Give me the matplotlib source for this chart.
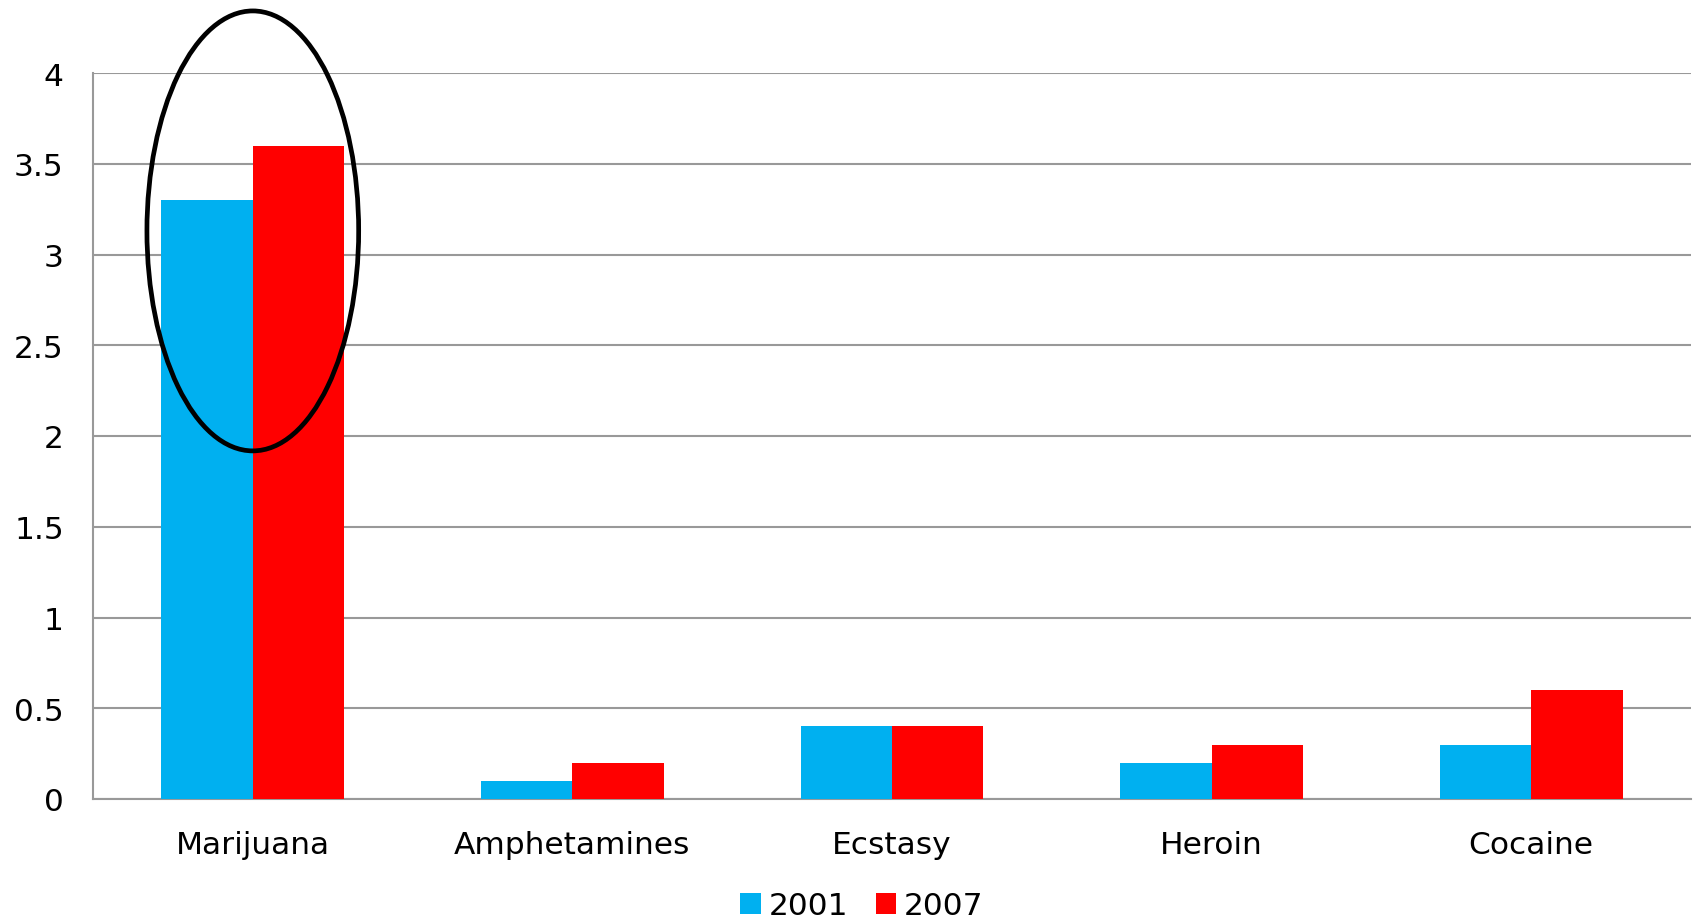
import matplotlib
matplotlib.use("Agg")
import matplotlib.pyplot as plt
from matplotlib.patches import Ellipse, Patch
import numpy as np

categories = ["Marijuana", "Amphetamines", "Ecstasy", "Heroin", "Cocaine"]
series_names = ["2001", "2007"]
values_2001 = [3.3, 0.1, 0.4, 0.2, 0.3]
values_2007 = [3.6, 0.2, 0.4, 0.3, 0.6]
y_ticks = [0, 0.5, 1, 1.5, 2, 2.5, 3, 3.5, 4]
y_tick_labels = ["0", "0.5", "1", "1.5", "2", "2.5", "3", "3.5", "4"]

blue = "#00B0F0"
red = "#FF0000"
grid_color = "#999999"

plt.rcParams["font.family"] = ["DejaVu Sans"]

fig = plt.figure(figsize=(16.96, 9.2), dpi=100)
ax = fig.add_axes([93 / 1696, 1 - 800 / 920, (1691 - 93) / 1696, (800 - 74) / 920])

x = np.arange(len(categories))
bw = 1 / 3.5
ax.bar(x - bw / 2, values_2001, width=bw, color=blue, zorder=3)
ax.bar(x + bw / 2, values_2007, width=bw, color=red, zorder=3)

ax.set_xlim(-0.5, len(categories) - 0.5)
ax.set_ylim(0, 4)
ax.set_yticks(y_ticks)
ax.set_yticklabels(y_tick_labels)
ax.set_xticks(x)
ax.set_xticklabels(categories)
ax.tick_params(axis="both", length=0, labelsize=22.5, colors="black")
ax.tick_params(axis="y", pad=21)
ax.tick_params(axis="x", pad=22)

ax.yaxis.grid(True, color=grid_color, linewidth=1.5, zorder=0)
ax.set_axisbelow(True)
for side in ["top", "right"]:
    ax.spines[side].set_visible(False)
for side in ["left", "bottom"]:
    ax.spines[side].set_color(grid_color)
    ax.spines[side].set_linewidth(1.5)

# Highlight ring around the Marijuana pair
ring = Ellipse((0.0, 3.13), width=0.6625, height=2.424, fill=False,
               edgecolor="black", linewidth=3.4, clip_on=False, zorder=5)
ax.add_patch(ring)

handles = [Patch(facecolor=blue, edgecolor="none"), Patch(facecolor=red, edgecolor="none")]
fig.legend(handles, series_names, loc="center", bbox_to_anchor=(862 / 1696, 1 - 907 / 920),
           ncol=2, frameon=False, fontsize=22.5, handlelength=0.65, handleheight=0.65,
           handletextpad=0.25, columnspacing=0.9, borderpad=0)

fig.savefig("out.png", dpi=100, facecolor="white")
